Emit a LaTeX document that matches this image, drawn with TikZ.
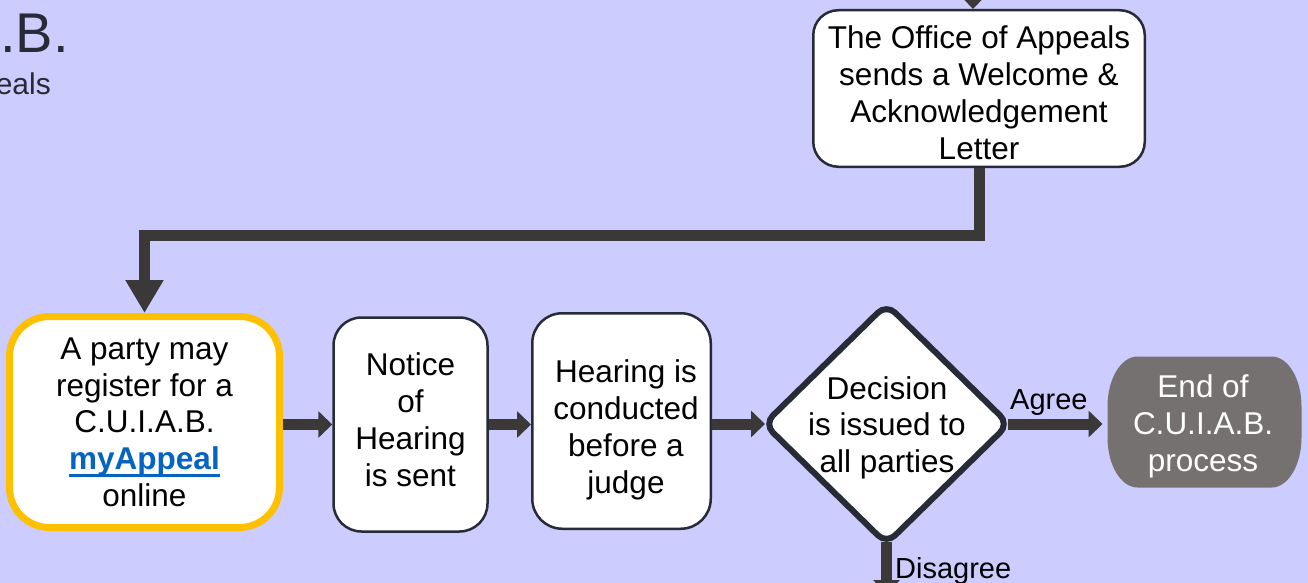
\documentclass[tikz,border=0pt]{standalone}
\usepackage{fontspec}
\setmainfont{Liberation Sans}
\usetikzlibrary{arrows.meta,shapes.geometric}
\definecolor{bgc}{HTML}{CCCCFF}
\definecolor{bdc}{HTML}{262B36}
\definecolor{connc}{HTML}{3B3838}
\definecolor{yel}{HTML}{FFC000}
\definecolor{linkc}{HTML}{0563C1}
\definecolor{endc}{HTML}{767171}
\newcommand{\ulink}[1]{\setbox0\hbox{#1}\rlap{\rule[-7pt]{\wd0}{3pt}}\box0}
\begin{document}
\begin{tikzpicture}[x=1pt,y=-1pt,
  box/.style={draw=bdc, line width=2.5pt, fill=white, rounded corners=28pt, inner sep=0pt},
  txt/.style={inner sep=0pt, align=center, anchor=north, font=\fontsize{31.5pt}{36.8pt}\selectfont},
  lbl/.style={inner sep=0pt, anchor=base west, font=\fontsize{29pt}{34pt}\selectfont},
  conn/.style={draw=connc, line width=11pt},
  hsmall/.tip={Triangle[length=14pt,width=26pt]},
  hbig/.tip={Triangle[length=33pt,width=36pt]}]
\fill[bgc] (0,0) rectangle (1308,583);
\useasboundingbox (0,0) rectangle (1308,583);
% title fragments
\node[anchor=base west, inner sep=0pt, font=\fontsize{56pt}{60pt}\selectfont, text=bdc] (ttl) at (0,53) {.B.};
\node[anchor=base east, inner sep=0pt, font=\fontsize{30pt}{34pt}\selectfont, text=bdc] (sub) at (51,95) {eals};
% boxes
\node[box, rounded corners=25pt, minimum width=331.5pt, minimum height=156.5pt] (top) at (979,88.5) {};
\node[box, draw=yel, line width=7pt, rounded corners=40pt, minimum width=270pt, minimum height=211pt] (reg) at (144.5,422) {};
\node[box, minimum width=154pt, minimum height=214pt] (notice) at (410.5,424.5) {};
\node[box, rounded corners=30pt, minimum width=178.5pt, minimum height=215.5pt] (hear) at (621.5,421) {};
\node[diamond, draw=bdc, line width=6pt, fill=white, rounded corners=12pt, inner sep=0pt, minimum width=247pt, minimum height=242pt] (dec) at (886.5,424) {};
\node[inner sep=0pt, outer sep=0pt, minimum width=194pt, minimum height=131pt] (endn) at (1204.5,422) {};
\fill[endc] (1137.5,356.5) -- (1271.5,356.5)
  arc[start angle=90,end angle=0,x radius=30pt,y radius=50pt] -- (1301.5,437.5)
  arc[start angle=0,end angle=-90,x radius=30pt,y radius=50pt] -- (1137.5,487.5)
  arc[start angle=270,end angle=180,x radius=30pt,y radius=50pt] -- (1107.5,406.5)
  arc[start angle=180,end angle=90,x radius=30pt,y radius=50pt] -- cycle;
% texts
\node[txt, font=\fontsize{31.5pt}{37pt}\selectfont] (topt) at (979,25) {The Office of Appeals\\sends a Welcome \&\\Acknowledgement\\Letter};
\node[txt] (regt) at (144.5,337.4) {A party may\\register for a\\C.U.I.A.B.\\\textbf{\color{linkc}\ulink{myAppeal}}\\online};
\node[txt, font=\fontsize{31.5pt}{37pt}\selectfont] (nott) at (410.5,352.4) {Notice\\of\\Hearing\\is sent};
\node[txt, font=\fontsize{31.5pt}{36.8pt}\selectfont] (hert) at (626,359.6) {Hearing is\\conducted\\before a\\judge};
\node[txt, font=\fontsize{31.5pt}{36.6pt}\selectfont] (dect) at (887,376) {Decision\\is issued to\\all parties};
\node[txt, text=white, font=\fontsize{31.5pt}{37pt}\selectfont] (endt) at (1203,374.5) {End of\\C.U.I.A.B.\\process};
% connectors
\coordinate (tin) at (973,-40);
\draw[conn, -{hsmall}] (tin) -- (tin |- top.north);
\coordinate (bend) at (979,235);
\draw[conn, -{hbig}] (top.south) -- (bend) -| (reg.north);
\draw[conn, -{hsmall}] (notice.west -| reg.east) -- (notice.west);
\draw[conn, -{hsmall}] (notice.east) -- (notice.east -| hear.west);
\draw[conn, -{hsmall}] (dec.west -| hear.east) -- ([xshift=5pt]dec.west);
\draw[conn, -{hsmall}] ([xshift=-5pt]dec.east) -- ([xshift=-5pt]dec.east -| endn.west);
\node[lbl] (agl) at (1010,409) {Agree};
\coordinate (dbot) at (886.5,594);
\draw[conn, -{hsmall}] ([yshift=6pt]dec.south) -- (dec.south |- dbot);
\node[lbl] (dgl) at (895,578) {Disagree};
\end{tikzpicture}
\end{document}
